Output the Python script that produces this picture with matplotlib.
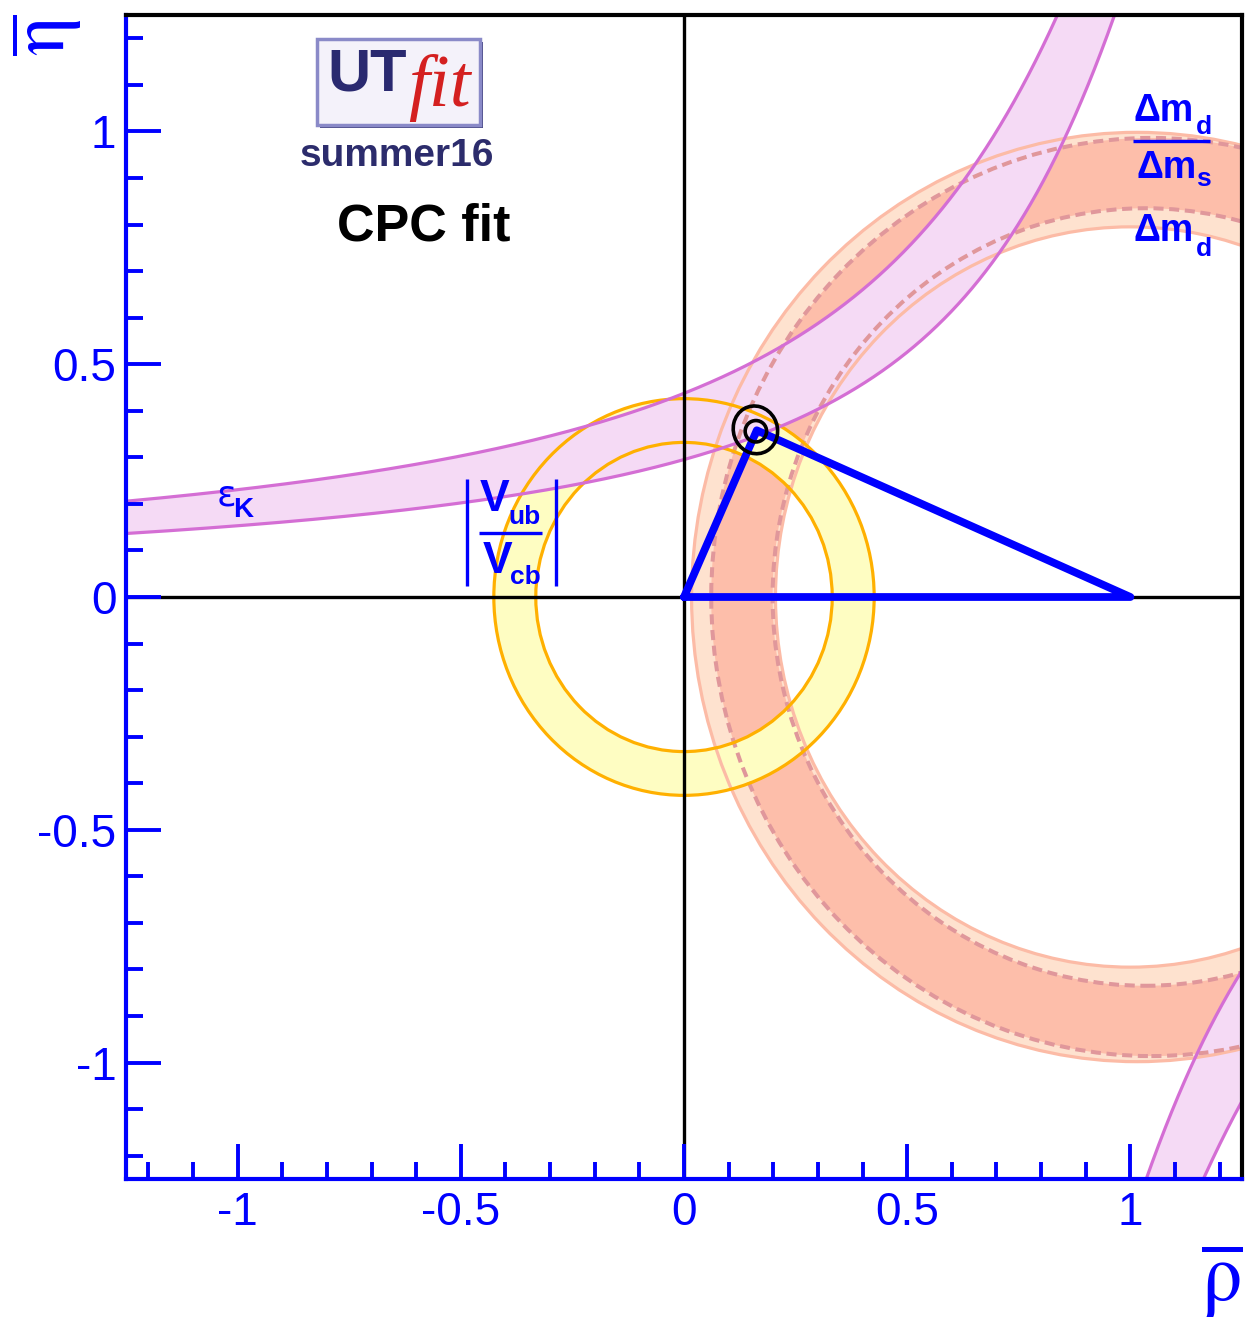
import numpy as np
import matplotlib
matplotlib.use("Agg")
from matplotlib import pyplot as plt
from matplotlib.patches import PathPatch, Circle, Ellipse, Rectangle
from matplotlib.path import Path
from matplotlib.ticker import MultipleLocator

plt.rcParams['font.family'] = ['Liberation Sans', 'DejaVu Sans']
plt.rcParams['mathtext.fontset'] = 'stix'

BLUE = '#0000ff'

# plot range in (rho, eta)
rho_lim = [-1.25, 1.25]
eta_lim = [-1.25, 1.25]
major_ticks = [-1, -0.5, 0, 0.5, 1]
tick_labels = ['-1', '-0.5', '0', '0.5', '1']

# |Vub/Vcb| ring around the origin (inner, outer radius)
vub_radii = [0.332, 0.426]

# circle edges (centre rho, centre eta, radius)
dmd_outer = (1.015, 0.0, 0.998)     # dm_d alone
dmd_inner = (1.00, 0.0, 0.795)
dms_outer = (1.047, 0.0, 0.986)     # dm_d / dm_s
dms_inner = (1.0335, 0.0, 0.835)

# eps_K hyperbola: rho = a + b*eta - k/eta
epsk_a = 1.0
epsk_b = 0.17
epsk_k = [0.31, 0.47]

# fit result: apex and 68% / 95% regions (rho, eta, width, height, angle)
apex = (0.163, 0.358)
region_68 = (0.161, 0.356, 0.048, 0.046, 0)
region_95 = (0.160, 0.359, 0.098, 0.104, 30)


def ring(outer, inner, n=720):
    t = np.linspace(0, 2 * np.pi, n)
    xo = outer[0] + outer[2] * np.cos(t)
    yo = outer[1] + outer[2] * np.sin(t)
    xi = inner[0] + inner[2] * np.cos(t[::-1])
    yi = inner[1] + inner[2] * np.sin(t[::-1])
    verts = np.concatenate([np.column_stack([xo, yo]), np.column_stack([xi, yi])])
    codes = [Path.MOVETO] + [Path.LINETO] * (n - 1) + [Path.MOVETO] + [Path.LINETO] * (n - 1)
    return Path(verts, codes)


def epsk_rho(eta, k):
    return epsk_a + epsk_b * eta - k / eta


fig = plt.figure(figsize=(12.47, 13.27), dpi=100)
ax = fig.add_axes([0.10104, 0.11153, 0.89495, 0.87716])
ax.set_xlim(rho_lim)
ax.set_ylim(eta_lim)
ax.set_axisbelow(False)

# --- filled bands ---
ax.add_patch(PathPatch(ring(dmd_outer, dmd_inner), facecolor='#fee2cf', edgecolor='none', zorder=1.0))
ax.add_patch(PathPatch(ring(dms_outer, dms_inner), facecolor='#fdbeaa', edgecolor='none', zorder=1.1))
ax.add_patch(PathPatch(ring((0, 0, vub_radii[1]), (0, 0, vub_radii[0])),
                       facecolor='#fefdc2', edgecolor='none', zorder=1.2))

eta_up = np.linspace(0.02, 1.4, 4000)
eta_dn = -eta_up
ax.fill_betweenx(eta_up, epsk_rho(eta_up, epsk_k[1]), epsk_rho(eta_up, epsk_k[0]),
                 color='#f5daf5', lw=0, zorder=1.3)
ax.fill_betweenx(eta_dn, epsk_rho(eta_dn, epsk_k[0]), epsk_rho(eta_dn, epsk_k[1]),
                 color='#f5daf5', lw=0, zorder=1.3)

# --- band edges ---
for c in (dmd_outer, dmd_inner):
    ax.add_patch(Circle(c[:2], c[2], fill=False, ec='#fcbba6', lw=2.3, zorder=1.5))
for c in (dms_outer, dms_inner):
    ax.add_patch(Circle(c[:2], c[2], fill=False, ec='#e0979b', lw=2.9,
                        ls=(0, (2.5, 1.4)), zorder=1.6))
for r in vub_radii:
    ax.add_patch(Circle((0, 0), r, fill=False, ec='#ffb000', lw=2.3, zorder=1.7))
for k in epsk_k:
    ax.plot(epsk_rho(eta_up, k), eta_up, color='#d46ed4', lw=2.3, zorder=1.8)
    ax.plot(epsk_rho(eta_dn, k), eta_dn, color='#d46ed4', lw=2.3, zorder=1.8)

# --- coordinate axes through the origin ---
ax.axhline(0, color='black', lw=2.4, zorder=2)
ax.axvline(0, color='black', lw=2.4, zorder=2)

# --- unitarity triangle and fit regions ---
ax.plot([0, apex[0], 1, 0], [0, apex[1], 0, 0], color=BLUE, lw=5.6,
        solid_joinstyle='round', solid_capstyle='round', zorder=3)
for reg in (region_68, region_95):
    ax.add_patch(Ellipse(reg[:2], reg[2], reg[3], angle=reg[4], fill=False,
                         ec='black', lw=2.6, zorder=3.5))

# --- frame and ticks ---
for side in ('left', 'bottom'):
    ax.spines[side].set_color(BLUE)
    ax.spines[side].set_linewidth(3.0)
for side in ('top', 'right'):
    ax.spines[side].set_color('black')
    ax.spines[side].set_linewidth(3.0)
ax.set_xticks(major_ticks)
ax.set_xticklabels(tick_labels)
ax.set_yticks(major_ticks)
ax.set_yticklabels(tick_labels)
ax.xaxis.set_minor_locator(MultipleLocator(0.1))
ax.yaxis.set_minor_locator(MultipleLocator(0.1))
ax.tick_params(which='both', direction='in', color=BLUE, width=2.8,
               top=False, right=False, labelcolor=BLUE, labelsize=33)
ax.tick_params(which='major', length=25)
ax.tick_params(which='minor', length=12.5)
ax.tick_params(axis='x', pad=9)
ax.tick_params(axis='y', pad=7)

# axis titles
fig.text(0.007, 0.989, r'$\overline{\mathrm{\eta}}$', color=BLUE, fontsize=56,
         rotation=90, ha='left', va='top')
fig.text(0.997, 0.005, r'$\overline{\mathrm{\rho}}$', color=BLUE, fontsize=58,
         ha='right', va='bottom')

# --- logo ---
ax.add_patch(Rectangle((-0.816, 1.007), 0.3656, 0.1845, fc='#4a4a86', ec='none', zorder=4))
ax.add_patch(Rectangle((-0.823, 1.014), 0.3656, 0.1845, fc='#f4f2fa', ec='#8a8ac8',
                       lw=2.5, zorder=4.1))
ax.text(-0.80, 1.087, 'UT', color='#2a2a70', fontsize=43, fontweight='bold',
        ha='left', va='baseline', zorder=5)
ax.text(-0.618, 1.055, 'fit', color='#d42020', fontsize=54, style='italic',
        family='Liberation Serif', ha='left', va='baseline', zorder=5)
ax.text(-0.6435, 0.926, 'summer16', color='#2c2c6c', fontsize=28, fontweight='bold',
        ha='center', va='baseline', zorder=5)
ax.text(-0.778, 0.765, 'CPC fit', color='black', fontsize=37.5, fontweight='bold',
        ha='left', va='baseline', zorder=5)

# --- constraint labels ---
ax.text(1.0067, 1.0225, 'Δm', color=BLUE, fontsize=27, fontweight='bold', va='baseline', zorder=5)
ax.text(1.146, 0.9946, 'd', color=BLUE, fontsize=19, fontweight='bold', va='baseline', zorder=5)
ax.plot([1.0067, 1.179], [0.98, 0.98], color=BLUE, lw=2.4, solid_capstyle='butt', zorder=5)
ax.text(1.013, 0.900, 'Δm', color=BLUE, fontsize=27, fontweight='bold', va='baseline', zorder=5)
ax.text(1.148, 0.883, 's', color=BLUE, fontsize=19, fontweight='bold', va='baseline', zorder=5)
ax.text(1.0067, 0.765, 'Δm', color=BLUE, fontsize=27, fontweight='bold', va='baseline', zorder=5)
ax.text(1.146, 0.733, 'd', color=BLUE, fontsize=19, fontweight='bold', va='baseline', zorder=5)

ax.text(-1.047, 0.196, 'ε', color=BLUE, fontsize=26, family='DejaVu Sans',
        va='baseline', zorder=5)
ax.text(-1.01, 0.171, 'K', color=BLUE, fontsize=20, fontweight='bold',
        va='baseline', zorder=5)

ax.plot([-0.4865, -0.4865], [0.0226, 0.254], color=BLUE, lw=2.4, solid_capstyle='butt', zorder=5)
ax.plot([-0.287, -0.287], [0.0226, 0.254], color=BLUE, lw=2.4, solid_capstyle='butt', zorder=5)
ax.text(-0.458, 0.1856, 'V', color=BLUE, fontsize=32, fontweight='bold', va='baseline', zorder=5)
ax.text(-0.393, 0.1577, 'ub', color=BLUE, fontsize=19, fontweight='bold', va='baseline', zorder=5)
ax.plot([-0.46, -0.318], [0.137, 0.137], color=BLUE, lw=2.4, solid_capstyle='butt', zorder=5)
ax.text(-0.452, 0.0526, 'V', color=BLUE, fontsize=32, fontweight='bold', va='baseline', zorder=5)
ax.text(-0.390, 0.029, 'cb', color=BLUE, fontsize=19, fontweight='bold', va='baseline', zorder=5)

fig.savefig('out.png', dpi=100)
